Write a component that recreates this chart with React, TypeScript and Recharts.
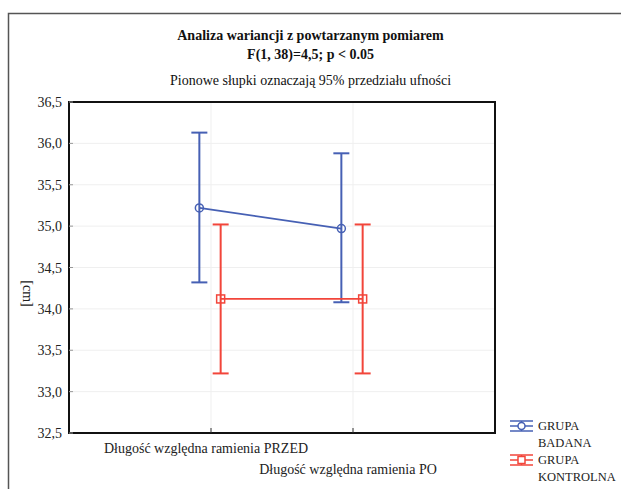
import React from "react";
import {
  ComposedChart,
  Line,
  XAxis,
  YAxis,
  CartesianGrid,
  ErrorBar,
  ReferenceArea,
} from "recharts";

const categories = [
  "Długość względna ramienia PRZED",
  "Długość względna ramienia PO",
];
const badanaMean = [35.22, 34.97];
const badanaLow = [34.32, 34.08];
const badanaHigh = [36.13, 35.88];
const kontrolnaMean = [34.12, 34.12];
const kontrolnaLow = [33.22, 33.22];
const kontrolnaHigh = [35.02, 35.02];
const yTicks = [32.5, 33, 33.5, 34, 34.5, 35, 35.5, 36, 36.5];

const BLUE = "#4660b4";
const RED = "#f2453a";
const FONT = "'Liberation Serif', 'Times New Roman', serif";

// small horizontal shift so the two groups don't overlap
const SHIFT_BADANA = -0.082;
const SHIFT_KONTROLNA = 0.068;

const buildRows = (mean: number[], low: number[], high: number[], shift: number) =>
  mean.map((m, i) => ({
    x: i + 1 + shift,
    y: m,
    err: [m - low[i], high[i] - m],
  }));

const badanaRows = buildRows(badanaMean, badanaLow, badanaHigh, SHIFT_BADANA);
const kontrolnaRows = buildRows(kontrolnaMean, kontrolnaLow, kontrolnaHigh, SHIFT_KONTROLNA);

const fmt = (v: number) => v.toFixed(1).replace(".", ",");

const YTick = (props: any) => {
  const { x, y, payload } = props;
  return (
    <g>
      <line x1={x} y1={y} x2={x + 4} y2={y} stroke="#999" strokeWidth={1} />
      <text
        x={x - 7}
        y={y}
        dy={5}
        textAnchor="end"
        fontFamily={FONT}
        fontSize={14}
        fill="#222"
      >
        {fmt(payload.value)}
      </text>
    </g>
  );
};

const XTick = (props: any) => {
  const { x, y, payload } = props;
  const idx = Math.round(payload.value) - 1;
  return (
    <g>
      <line x1={x} y1={y} x2={x} y2={y - 5} stroke="#333" strokeWidth={1} />
      <text
        x={x - 5}
        y={y}
        dy={idx === 0 ? 20 : 41}
        textAnchor="middle"
        fontFamily={FONT}
        fontSize={14}
        fill="#222"
      >
        {categories[idx]}
      </text>
    </g>
  );
};

const CircleDot = (props: any) => {
  const { cx, cy, index } = props;
  return (
    <circle key={index} cx={cx} cy={cy} r={4} fill="none" stroke={BLUE} strokeWidth={1.5} />
  );
};

const SquareDot = (props: any) => {
  const { cx, cy, index } = props;
  return (
    <rect
      key={index}
      x={cx - 4}
      y={cy - 4}
      width={8}
      height={8}
      fill="none"
      stroke={RED}
      strokeWidth={1.5}
    />
  );
};

const LegendIcon = ({ color, square }: { color: string; square?: boolean }) => (
  <svg width={24} height={16} style={{ display: "block" }}>
    <line x1={0} y1={3} x2={23} y2={3} stroke={color} strokeWidth={1.5} />
    <line x1={0} y1={8} x2={23} y2={8} stroke={color} strokeWidth={1.5} />
    <line x1={0} y1={13} x2={23} y2={13} stroke={color} strokeWidth={1.5} />
    <line x1={11.5} y1={3} x2={11.5} y2={13} stroke={color} strokeWidth={1.5} />
    {square ? (
      <rect x={8} y={4.5} width={7} height={7} fill="#fff" stroke={color} strokeWidth={1.5} />
    ) : (
      <circle cx={11.5} cy={8} r={3.5} fill="#fff" stroke={color} strokeWidth={1.5} />
    )}
  </svg>
);

const legendItems = [
  { lines: ["GRUPA", "BADANA"], color: BLUE, square: false },
  { lines: ["GRUPA", "KONTROLNA"], color: RED, square: true },
];

export default function App() {
  return (
    <div
      style={{
        position: "absolute",
        left: 0,
        top: 0,
        width: 621,
        height: 489,
        background: "#fff",
        fontFamily: FONT,
        overflow: "hidden",
      }}
    >
      <svg
        width={621}
        height={489}
        style={{ position: "absolute", left: 0, top: 0 }}
      >
        <path d="M8.5 489 L8.5 13.5 L621 13.5" fill="none" stroke="#555" strokeWidth={1.5} />
      </svg>

      <div
        style={{
          position: "absolute",
          left: 0,
          width: 621,
          top: 26,
          textAlign: "center",
          fontSize: 14,
          fontWeight: "bold",
          lineHeight: "19px",
          color: "#111",
        }}
      >
        <div>Analiza wariancji z powtarzanym pomiarem</div>
        <div>F(1, 38)=4,5; p &lt; 0.05</div>
      </div>
      <div
        style={{
          position: "absolute",
          left: 0,
          width: 621,
          top: 71,
          textAlign: "center",
          fontSize: 14,
          lineHeight: "19px",
          color: "#111",
        }}
      >
        Pionowe słupki oznaczają 95% przedziału ufności
      </div>

      <div style={{ position: "absolute", left: 0, top: 0 }}>
        <ComposedChart
          width={621}
          height={489}
          margin={{ top: 102, right: 126, bottom: 0, left: 0 }}
        >
          <CartesianGrid stroke="#efefef" strokeWidth={1} />
          <XAxis
            type="number"
            dataKey="x"
            domain={[0, 3]}
            ticks={[1, 2]}
            height={56}
            axisLine={false}
            tickLine={false}
            tickSize={0}
            tickMargin={0}
            tick={<XTick />}
            interval={0}
          />
          <YAxis
            type="number"
            domain={[32.5, 36.5]}
            ticks={yTicks}
            width={69}
            axisLine={false}
            tickLine={false}
            tickSize={0}
            tickMargin={0}
            tick={<YTick />}
            interval={0}
            label={{
              value: "[cm]",
              angle: 90,
              position: "insideLeft",
              offset: 28,
              dy: 26,
              style: { fontFamily: FONT, fontSize: 14, fill: "#222", textAnchor: "middle" },
            }}
          />
          <ReferenceArea
            x1={0}
            x2={3}
            y1={32.5}
            y2={36.5}
            fill="none"
            stroke="#111"
            strokeWidth={2}
            ifOverflow="visible"
          />
          <Line
            data={badanaRows}
            dataKey="y"
            stroke={BLUE}
            strokeWidth={1.8}
            dot={<CircleDot />}
            activeDot={false}
            isAnimationActive={false}
          >
            <ErrorBar dataKey="err" width={8} stroke={BLUE} strokeWidth={2} direction="y" />
          </Line>
          <Line
            data={kontrolnaRows}
            dataKey="y"
            stroke={RED}
            strokeWidth={1.8}
            dot={<SquareDot />}
            activeDot={false}
            isAnimationActive={false}
          >
            <ErrorBar dataKey="err" width={8} stroke={RED} strokeWidth={2} direction="y" />
          </Line>
        </ComposedChart>
      </div>

      <div style={{ position: "absolute", left: 510, top: 418, fontSize: 12.5, color: "#222" }}>
        {legendItems.map((item) => (
          <div key={item.lines[1]} style={{ display: "flex", alignItems: "flex-start" }}>
            <div style={{ width: 28, paddingTop: 0 }}>
              <LegendIcon color={item.color} square={item.square} />
            </div>
            <div style={{ lineHeight: "17px" }}>
              {item.lines.map((l) => (
                <div key={l}>{l}</div>
              ))}
            </div>
          </div>
        ))}
      </div>
    </div>
  );
}
